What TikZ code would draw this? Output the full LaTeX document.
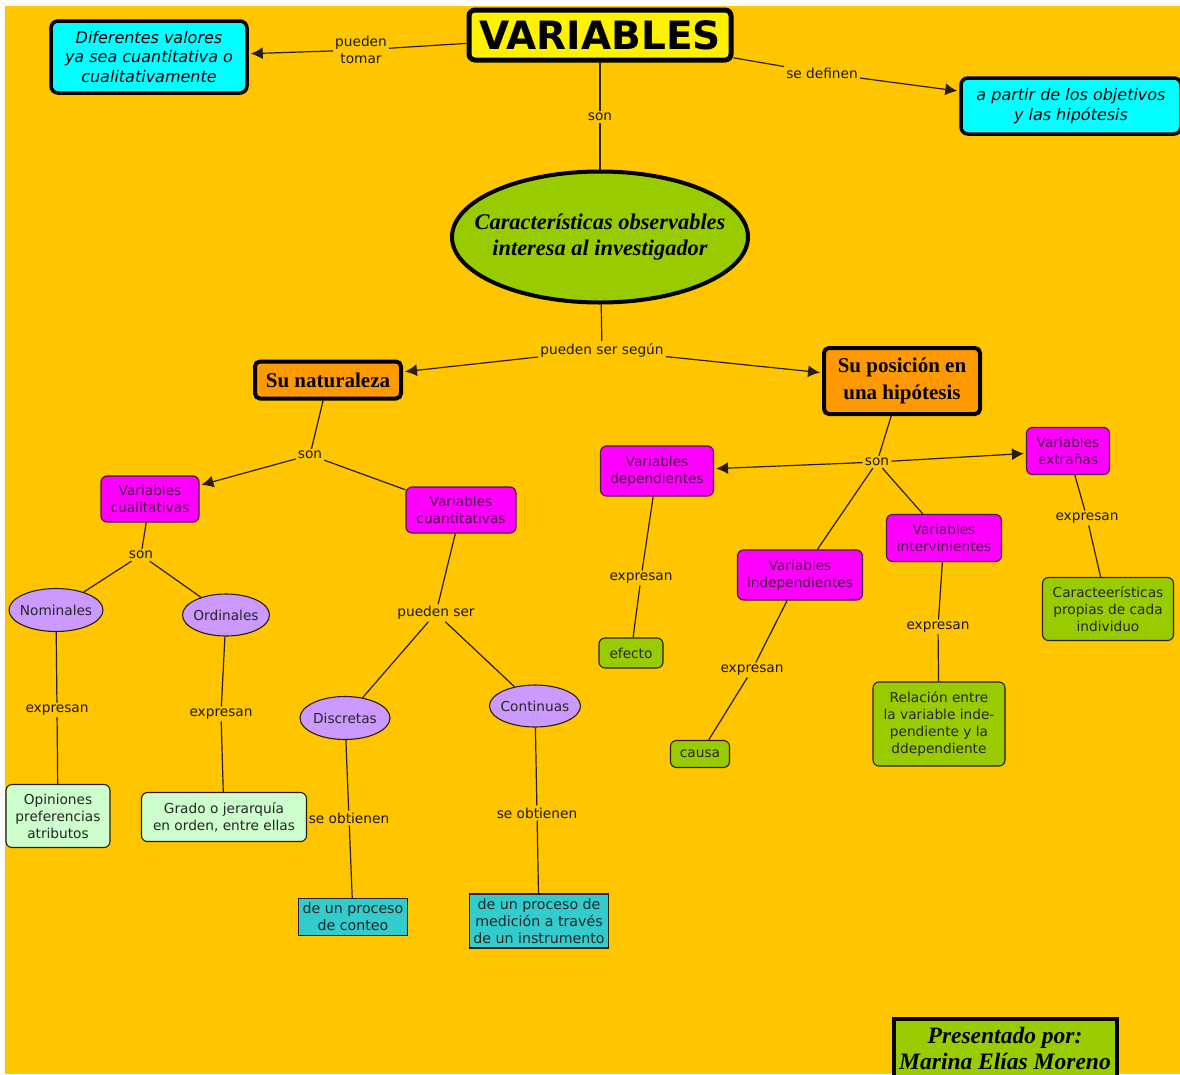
\documentclass[tikz,border=0pt]{standalone}
\usepackage{fontspec}
\setmainfont{DejaVu Sans}
\newfontfamily\timesfont{Liberation Serif}
\usetikzlibrary{arrows.meta,shapes.geometric}
\definecolor{fondo}{RGB}{255,198,0}
\definecolor{cian}{RGB}{0,255,255}
\definecolor{verde}{RGB}{153,204,0}
\definecolor{naranja}{RGB}{255,153,0}
\definecolor{rosa}{RGB}{255,0,255}
\definecolor{lila}{RGB}{204,153,255}
\definecolor{verdeclaro}{RGB}{204,255,204}
\definecolor{turquesa}{RGB}{51,204,204}
\definecolor{linea}{RGB}{40,30,10}
\definecolor{morado}{RGB}{75,20,70}

\begin{document}
\begin{tikzpicture}[x=1pt,y=-1pt,font=\fontsize{13.7}{17}\selectfont,
  rel/.style={draw=linea,line width=1.2pt},
  flecha/.style={rel,-{Latex[length=12pt,width=12pt]},shorten >=2pt},
  etiq/.style={inner sep=2pt,align=center,text=black!90},
  gruesa/.style={draw=black,line width=4pt,rounded corners=7pt,align=center},
  caja/.style={draw=linea,line width=1.1pt,rounded corners=6pt,align=center,text=black!85,inner sep=2pt},
  rosada/.style={caja,fill=rosa,draw=morado,text=morado},
  ovalo/.style={ellipse,draw=linea,line width=1.1pt,fill=lila,text=black!85,inner xsep=-9pt,inner ysep=0pt},
  recta/.style={draw=linea,line width=1.1pt,fill=turquesa,align=center,inner sep=2pt,text=black!85,font=\fontsize{14.2}{17}\selectfont}]
\useasboundingbox (0,0) rectangle (1180,1074);
\fill[white] (0,0) rectangle (1180,1074);
\fill[fondo] (5,6) rectangle (1180,1074);
\node[gruesa,fill=yellow,line width=5pt,rounded corners=6pt,minimum width=262,minimum height=50,inner sep=0pt,font=\fontsize{39}{40}\selectfont\bfseries] (var) at (600,35) {VARIABLES};
\node[gruesa,fill=cian,line width=3.5pt,minimum width=196,minimum height=72,inner sep=2pt,font=\fontsize{16}{19.5}\selectfont\itshape] (dif) at (149,57) {Diferentes valores\\ya sea cuantitativa o\\cualitativamente};
\node[gruesa,fill=cian,line width=3.5pt,minimum width=220,minimum height=56,inner sep=2pt,font=\fontsize{16}{19.5}\selectfont\itshape] (obj) at (1071,106) {a partir de los objetivos\\y las hipótesis};
\node[ellipse,draw=black,line width=4pt,fill=verde,minimum width=296,minimum height=131,inner xsep=-30pt,align=center,font=\timesfont\fontsize{22.4}{26}\selectfont\bfseries\itshape] (carac) at (600,237) {Características observables\\interesa al investigador};
\node[gruesa,fill=naranja,rounded corners=5pt,minimum width=146,minimum height=37,inner sep=0pt,font=\timesfont\fontsize{21}{27}\selectfont\bfseries] (nat) at (328,380) {Su naturaleza};
\node[gruesa,fill=naranja,rounded corners=5pt,minimum width=156,minimum height=66,inner sep=0pt,font=\timesfont\fontsize{21}{27}\selectfont\bfseries] (pos) at (902,381) {Su posición en\\una hipótesis};
\node[rosada,minimum width=98,minimum height=46] (cual) at (150,499) {Variables\\cualitativas};
\node[rosada,minimum width=110,minimum height=46] (cuant) at (461,510) {Variables\\cuantitativas};
\node[rosada,minimum width=113,minimum height=50] (dep) at (657,471) {Variables\\dependientes};
\node[rosada,minimum width=83,minimum height=47] (extr) at (1068,451) {Variables\\extrañas};
\node[rosada,minimum width=125,minimum height=50] (indep) at (800,575) {Variables\\independientes};
\node[rosada,minimum width=115,minimum height=47] (interv) at (944,538) {Variables\\intervinientes};
\node[ovalo,minimum width=94,minimum height=43] (nom) at (56,610) {Nominales};
\node[ovalo,minimum width=87,minimum height=42] (ord) at (226,615) {Ordinales};
\node[ovalo,minimum width=90,minimum height=43] (disc) at (345,718) {Discretas};
\node[ovalo,minimum width=91,minimum height=42] (cont) at (535,706) {Continuas};
\node[caja,fill=verdeclaro,minimum width=104,minimum height=63] (opi) at (58,816) {Opiniones\\preferencias\\atributos};
\node[caja,fill=verdeclaro,minimum width=165,minimum height=49] (grado) at (224,817) {Grado o jerarquía\\en orden, entre ellas};
\node[recta,minimum width=109,minimum height=37] (conteo) at (353,917) {de un proceso\\de conteo};
\node[recta,minimum width=139,minimum height=54] (medic) at (539,921) {de un proceso de\\medición a través\\de un instrumento};
\node[caja,fill=verde,minimum width=64,minimum height=30] (efecto) at (631,653) {efecto};
\node[caja,fill=verde,minimum width=59,minimum height=27] (causa) at (700,754) {causa};
\node[caja,fill=verde,minimum width=132,minimum height=84] (relac) at (939,724) {Relación entre\\la variable inde-\\pendiente y la\\ddependiente};
\node[caja,fill=verde,minimum width=131,minimum height=63] (propias) at (1108,609) {Caracteerísticas\\propias de cada\\individuo};
\node[draw=black,line width=4pt,fill=verde,minimum width=223,minimum height=58,inner sep=0pt,align=center,font=\timesfont\fontsize{23.5}{26}\selectfont\bfseries\itshape] (autor) at (1005,1048) {Presentado por:\\Marina Elías Moreno};
\node[etiq] (ptomar) at (361,50) {pueden\\tomar};
\foreach \n/\x/\y/\t in {son0/600/117/son,sedef/822/73/se definen,segun/602/350/pueden ser según,son1/310/455/son,son2/141/555/son,exp1/57/710/expresan,exp2/221/714/expresan,pser/436/613/pueden ser,obt1/349/818/se obtienen,obt2/537/813/se obtienen,son3/877/462/son,exp3/641/578/expresan,exp4/752/670/expresan,exp5/938/627/expresan,exp6/1087/518/expresan}
  \node[etiq] (\n) at (\x,\y) {\t};
\foreach \a/\b in {ptomar/dif,sedef/obj,segun/nat,segun/pos,son1/cual,son3/dep,son3/extr}
  \draw[flecha] (\a) -- (\b);
\foreach \a/\b in {var/ptomar,var/sedef,carac/segun,son1/cuant,son2/nom,son2/ord,pser/disc,pser/cont,son3/indep,son3/interv}
  \draw[rel] (\a) -- (\b);
\foreach \a/\b/\c in {var/son0/carac,nat/son1/son1,cual/son2/son2,nom/exp1/opi,ord/exp2/grado,cuant/pser/pser,disc/obt1/conteo,cont/obt2/medic,pos/son3/son3,dep/exp3/efecto,indep/exp4/causa,interv/exp5/relac,extr/exp6/propias}
  \draw[rel] (\a) -- (\b) -- (\c);
\end{tikzpicture}
\end{document}
